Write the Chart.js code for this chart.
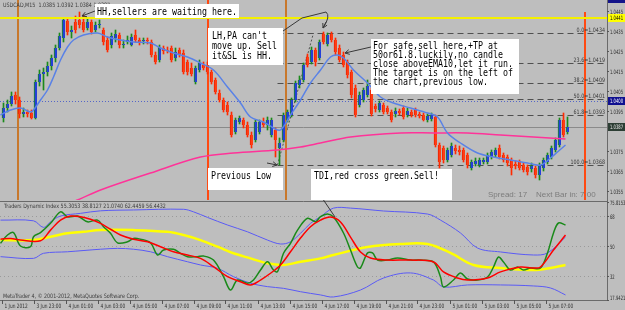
<!DOCTYPE html>
<html>
<head>
<meta charset="utf-8">
<script src="https://cdn.jsdelivr.net/npm/chart.js@4.4.1/dist/chart.umd.min.js"></script>
<style>
  html, body { margin: 0; padding: 0; background: #bebebe; }
  #wrap { position: relative; width: 625px; height: 310px; overflow: hidden; }
  #priceBox { position: absolute; left: 0; top: 0; width: 625px; height: 200px; }
  #tdiBox { position: absolute; left: 0; top: 200px; width: 625px; height: 110px; }
  canvas { background: #bebebe; }
</style>
</head>
<body>
<div id="wrap">
  <div id="priceBox"><canvas id="priceChart"></canvas></div>
  <div id="tdiBox"><canvas id="tdiChart"></canvas></div>
</div>
<script>
// --- candles (USDCAD M15) ---
const opens = [1.03915,1.03965,1.03985,1.04030,1.04005,1.03935,1.03945,1.03940,1.03915,1.04095,
  1.04135,1.04145,1.04175,1.04215,1.04265,1.04315,1.04400,1.04345,1.04395,1.04405,
  1.04395,1.04365,1.04395,1.04355,1.04380,1.04355,1.04305,1.04280,1.04315,1.04330,
  1.04280,1.04295,1.04280,1.04330,1.04305,1.04300,1.04305,1.04295,1.04230,1.04205,
  1.04265,1.04255,1.04265,1.04215,1.04255,1.04240,1.04195,1.04165,1.04095,1.04155,
  1.04180,1.04180,1.04145,1.04105,1.04040,1.04005,1.03980,1.03930,1.03845,1.03895,
  1.03905,1.03880,1.03830,1.03805,1.03845,1.03895,1.03880,1.03830,1.03855,1.03765,
  1.03805,1.03905,1.03930,1.04005,1.04080,1.04105,1.04220,1.04195,1.04255,1.04215,
  1.04335,1.04285,1.04335,1.04305,1.04265,1.04230,1.04195,1.04145,1.04065,1.03980,
  1.04005,1.04030,1.04055,1.03975,1.03955,1.03980,1.03965,1.03945,1.03935,1.03950,
  1.03965,1.03930,1.03945,1.03955,1.03935,1.03930,1.03905,1.03910,1.03920,1.03780,
  1.03765,1.03705,1.03730,1.03765,1.03755,1.03755,1.03730,1.03665,1.03685,1.03680,
  1.03695,1.03695,1.03720,1.03730,1.03765,1.03730,1.03720,1.03705,1.03685,1.03695,
  1.03680,1.03670,1.03660,1.03665,1.03630,1.03665,1.03695,1.03720,1.03755,1.03780,
  1.03905,1.03845];
const highs = [1.03990,1.04005,1.04045,1.04045,1.04020,1.03965,1.03955,1.03955,1.04105,1.04155,
  1.04165,1.04195,1.04230,1.04280,1.04340,1.04415,1.04415,1.04375,1.04425,1.04445,
  1.04430,1.04410,1.04405,1.04395,1.04405,1.04365,1.04320,1.04340,1.04355,1.04340,
  1.04305,1.04325,1.04335,1.04355,1.04315,1.04315,1.04315,1.04305,1.04245,1.04280,
  1.04275,1.04270,1.04275,1.04265,1.04265,1.04255,1.04205,1.04190,1.04175,1.04205,
  1.04195,1.04195,1.04155,1.04115,1.04055,1.04015,1.03995,1.03945,1.03915,1.03925,
  1.03915,1.03895,1.03845,1.03905,1.03905,1.03915,1.03920,1.03915,1.03865,1.03815,
  1.03940,1.03955,1.04015,1.04100,1.04125,1.04190,1.04235,1.04270,1.04265,1.04305,
  1.04345,1.04340,1.04345,1.04315,1.04280,1.04245,1.04205,1.04155,1.04080,1.04045,
  1.04065,1.04105,1.04065,1.03985,1.04000,1.03990,1.03975,1.03955,1.03965,1.03960,
  1.03975,1.03965,1.03955,1.03965,1.03945,1.03940,1.03935,1.03940,1.03930,1.03790,
  1.03775,1.03765,1.03790,1.03780,1.03775,1.03765,1.03740,1.03705,1.03715,1.03715,
  1.03715,1.03740,1.03755,1.03765,1.03780,1.03740,1.03730,1.03715,1.03700,1.03705,
  1.03690,1.03680,1.03690,1.03675,1.03690,1.03715,1.03740,1.03775,1.03815,1.03915,
  1.03940,1.03920];
const lows = [1.03895,1.03945,1.03975,1.03985,1.03915,1.03920,1.03920,1.03910,1.03910,1.04075,
  1.04055,1.04125,1.04155,1.04195,1.04255,1.04295,1.04330,1.04315,1.04340,1.04365,
  1.04345,1.04355,1.04335,1.04345,1.04365,1.04280,1.04245,1.04265,1.04295,1.04265,
  1.04265,1.04285,1.04275,1.04295,1.04280,1.04285,1.04285,1.04220,1.04185,1.04195,
  1.04235,1.04240,1.04195,1.04200,1.04220,1.04135,1.04130,1.04125,1.04085,1.04145,
  1.04155,1.04135,1.04085,1.04035,1.03995,1.03945,1.03930,1.03820,1.03835,1.03885,
  1.03865,1.03820,1.03765,1.03795,1.03835,1.03870,1.03855,1.03820,1.03720,1.03680,
  1.03795,1.03895,1.03920,1.03995,1.04065,1.04095,1.04170,1.04185,1.04175,1.04205,
  1.04285,1.04275,1.04295,1.04230,1.04195,1.04170,1.04115,1.04015,1.03920,1.03970,
  1.03995,1.04020,1.03925,1.03945,1.03945,1.03935,1.03935,1.03895,1.03920,1.03930,
  1.03910,1.03920,1.03920,1.03920,1.03915,1.03900,1.03895,1.03900,1.03770,1.03665,
  1.03690,1.03695,1.03720,1.03735,1.03730,1.03695,1.03665,1.03655,1.03675,1.03670,
  1.03685,1.03685,1.03710,1.03720,1.03710,1.03695,1.03675,1.03630,1.03660,1.03655,
  1.03645,1.03630,1.03645,1.03615,1.03605,1.03650,1.03685,1.03710,1.03745,1.03770,
  1.03820,1.03835];
const closes = [1.03965,1.03985,1.04025,1.04005,1.03935,1.03945,1.03935,1.03915,1.04095,1.04135,
  1.04145,1.04175,1.04215,1.04265,1.04325,1.04405,1.04345,1.04355,1.04355,1.04380,
  1.04355,1.04395,1.04345,1.04380,1.04385,1.04295,1.04255,1.04325,1.04335,1.04280,
  1.04285,1.04305,1.04320,1.04305,1.04295,1.04305,1.04300,1.04230,1.04195,1.04270,
  1.04250,1.04250,1.04205,1.04245,1.04230,1.04145,1.04145,1.04135,1.04165,1.04190,
  1.04165,1.04145,1.04095,1.04045,1.04005,1.03955,1.03945,1.03830,1.03905,1.03915,
  1.03880,1.03830,1.03780,1.03895,1.03895,1.03880,1.03905,1.03905,1.03805,1.03790,
  1.03930,1.03945,1.04005,1.04090,1.04105,1.04180,1.04180,1.04255,1.04195,1.04295,
  1.04295,1.04330,1.04305,1.04245,1.04205,1.04180,1.04130,1.04030,1.03930,1.04030,
  1.04055,1.04075,1.03935,1.03960,1.03990,1.03945,1.03945,1.03905,1.03950,1.03940,
  1.03920,1.03950,1.03930,1.03930,1.03925,1.03905,1.03925,1.03930,1.03780,1.03695,
  1.03705,1.03755,1.03775,1.03750,1.03745,1.03705,1.03680,1.03695,1.03700,1.03705,
  1.03705,1.03730,1.03745,1.03755,1.03720,1.03705,1.03690,1.03665,1.03675,1.03665,
  1.03655,1.03645,1.03675,1.03630,1.03680,1.03705,1.03730,1.03765,1.03805,1.03905,
  1.03830,1.03870];

// moving averages (bar index, price)
const emaIdx = [-0.75,1.75,4.25,6.75,7.5,9.25,11,12.5,14.25,16,17.5,20,23.5,26,29.25,32.5,36.75,39.25,42.5,46,
  49.25,52.5,56,59.25,61.75,65,67.5,69.25,71.75,74.25,76.75,79.25,81.75,83.5,85,87.5,91,94.25,97.5,101.75,
  106,108.5,111,114.25,118.5,122.5,126.75,131,134.25,136.75,138.5,140.5];
const emaVals = [1.03930,1.03955,1.03965,1.03945,1.03955,1.04005,1.04055,1.04120,1.04205,1.04270,
  1.04305,1.04330,1.04340,1.04320,1.04305,1.04295,1.04290,1.04265,1.04240,1.04220,
  1.04190,1.04155,1.04070,1.03990,1.03920,1.03895,1.03865,1.03855,1.03930,1.04005,
  1.04090,1.04155,1.04220,1.04230,1.04215,1.04155,1.04090,1.04020,1.03990,1.03965,
  1.03940,1.03920,1.03840,1.03790,1.03740,1.03720,1.03705,1.03690,1.03680,1.03715,
  1.03745,1.03780];
const slowIdx = [14.25,18.5,24.25,36.75,49.25,57.5,68.5,74.25,79.25,86.75,99.25,107.5,116,124.25,132.5,140.5];
const slowVals = [1.03475,1.03505,1.03555,1.03640,1.03720,1.03740,1.03755,1.03770,1.03790,1.03820,
  1.03840,1.03840,1.03840,1.03830,1.03820,1.03810];

// axis / objects
const priceTicks = [1.0445, 1.0435, 1.0425, 1.0415, 1.0405, 1.0395, 1.0375, 1.0365, 1.0355];
const fibNames = ['0.0', '23.6', '38.2', '50.0', '61.8', '100.0'];
const fibLevels = [1.0434, 1.0419, 1.0409, 1.0401, 1.0393, 1.0368];
const fibFromIdx = 68.5, fibTopIdx = 77.5;
const yellowLevel = 1.04415, roundLevel = 1.0400, bidLevel = 1.0387;
const vLineIdx = [3.4, 50.9, 70.4, 145];
const timeLabelIdx = [0, 8, 16, 24, 32, 40, 48, 56, 64, 72, 80, 88, 96, 104, 112, 120, 128, 136];
const timeLabels = ['1 Jun 2012', '3 Jun 23:00', '4 Jun 01:00', '4 Jun 03:00', '4 Jun 05:00', '4 Jun 07:00',
  '4 Jun 09:00', '4 Jun 11:00', '4 Jun 13:00', '4 Jun 15:00', '4 Jun 17:00', '4 Jun 19:00',
  '4 Jun 21:00', '4 Jun 23:00', '5 Jun 01:00', '5 Jun 03:00', '5 Jun 05:00', '5 Jun 07:00'];

// --- Traders Dynamic Index ---
const bandUpIdx = [-0.75,7.5,10,11.75,14.25,19.25,24.25,32.5,45,47.5,51,56,61,66,69.25,71.75,74.25,76.75,79.25,82.5,
  86.75,95,106,109.25,114.25,118.5,124.25,132.5,136,140.5];
const bandUp = [65.3,64.9,61.0,64.3,67.7,69.3,70.8,71.3,71.7,70.2,66.9,62.4,58.4,53.5,51.2,52.5,57.5,63.4,67.3,72.4,
  72.4,70.7,68.9,65.3,57.7,48.8,46.5,44.7,45.9,55.3];
const bandLoIdx = [-0.75,7.5,10,16,24.25,28.5,32.5,36.75,41,46,49.25,53.5,57.5,61.75,66,70,74.25,79.25,82.5,89.25,
  95,101.75,107.5,110,116,124.25,132.5,136.75,140.5];
const bandLo = [43.7,42.7,45.7,46.6,48.1,48.6,48.1,46.6,43.7,40.7,38.8,36.8,31.9,28.0,26.0,25.0,23.0,21.1,19.9,24.0,
  31.1,34.1,29.9,25.8,27.0,27.0,26.4,25.2,21.1];
const baseIdx = [-0.75,7.5,11.75,16,20,24.25,32.5,41,45,49.25,53.5,57.5,61.75,66,70,74.25,79.25,82.5,91,99.25,
  106,111.75,117.5,124.25,132.5,136.75,140.5];
const baseVals = [53.5,53.5,55.5,57.5,58.4,59.4,59.4,58.4,56.5,53.5,49.6,45.7,42.7,39.8,38.8,40.7,42.7,44.7,49.4,51.2,
  51.2,45.9,38.8,37.0,35.8,37.0,38.8];
const signalIdx = [-0.75,1.75,4.25,9.25,11.75,14.25,16.75,19.25,21.75,24.25,26.75,29.25,32.5,36,39.25,42.5,46,49.25,52.5,56,
  59.25,61.75,64.25,66.75,69.25,71.75,74.25,76.75,79.25,81.75,84.25,86.75,89.25,91.75,96,101.75,107.5,110,113.5,116,
  121,124.25,129.25,132.5,134.25,137.5,140.5];
const signalVals = [54.0,54.5,53.5,53.1,59.4,65.3,67.7,67.3,65.8,63.4,59.9,56.5,54.0,52.5,49.6,46.6,44.7,42.7,37.8,31.9,
  28.9,27.0,29.9,33.9,38.8,46.6,54.7,61.4,65.3,67.1,64.2,55.3,46.5,42.9,41.7,41.7,40.6,34.7,31.1,29.9,
  31.1,34.7,37.6,37.0,37.6,47.6,56.5];
const rsiIdx = [-0.75,1,2.5,4.25,6.75,7.5,9.25,11.75,14.25,16,18.5,21,23.5,25,26.75,28.5,31,32.5,34.25,36.75,
  38.5,40,42.5,44.25,46,48.5,50,52.5,55,56.75,58.5,61,62.5,64.25,66,67.5,68.5,70,71.75,73.5,
  76,78,79.25,81,82.5,85,86.75,88.5,89.25,91,92.25,93.5,96,98.5,101.75,104.25,107.5,109.25,110,112.5,
  114.25,116,118.5,121,122.5,123.75,125,126.75,128.5,130,131.75,134.25,136,137.5,138.75,140.5];
const rsiVals = [51.6,56.5,57.9,50.0,49.6,55.5,57.9,63.4,70.2,67.3,67.7,64.3,65.3,61.4,57.5,51.9,52.5,54.5,54.0,51.9,
  44.7,47.6,48.1,45.7,43.7,43.7,44.1,41.7,31.9,24.0,29.9,28.0,29.9,35.8,40.7,35.8,34.8,45.7,51.6,59.4,
  66.4,64.3,67.3,68.9,67.1,57.7,47.6,37.6,37.0,45.9,45.9,41.7,41.7,42.9,41.7,41.7,40.6,31.7,25.8,29.9,
  34.1,30.5,29.9,31.7,37.6,43.5,40.6,35.8,37.6,35.8,37.0,37.0,45.9,57.7,63.6,62.4];
const tdiTicks = [75.8153, 68, 50, 32, 17.9421];
const tdiTickText = ['75.8153', '68', '50', '32', '17.9421'];

// --- helpers ---
const pts = (xs, ys) => xs.map((x, k) => ({ x: x, y: ys[k] }));
const bull = opens.map((o, i) => closes[i] >= o);

// squeezed text: MT4 fonts here are narrow
function narrowText(ctx, str, x, y, sx) {
  ctx.save();
  ctx.translate(x, y);
  ctx.scale(sx, 1);
  ctx.fillText(str, 0, 0);
  ctx.restore();
}

function arrowLine(ctx, x1, y1, x2, y2, head) {
  ctx.beginPath(); ctx.moveTo(x1, y1); ctx.lineTo(x2, y2); ctx.stroke();
  if (!head) return;
  const a = Math.atan2(y2 - y1, x2 - x1);
  ctx.beginPath();
  ctx.moveTo(x2 - 5 * Math.cos(a - 0.5), y2 - 5 * Math.sin(a - 0.5));
  ctx.lineTo(x2, y2);
  ctx.lineTo(x2 - 5 * Math.cos(a + 0.5), y2 - 5 * Math.sin(a + 0.5));
  ctx.stroke();
}

// comment boxes typed on the chart
const notes = [
  { box: [95, 4, 144, 14], x: 97, y: 14.5, lh: 10, lines: ['HH,sellers are waiting here.'] },
  { box: [208, 28, 75, 37], x: 212, y: 38.5, lh: 10, lines: ["LH,PA can't", 'move up. Sell', 'it&SL is HH.'] },
  { box: [371, 39, 148, 55], x: 373, y: 48.5, lh: 9.2, lines: ['For safe,sell here,+TP at', '50or61.8.luckily,no candle',
    'close aboveEMA10,let it run.', 'The target is on the left of', 'the chart,previous low.'] },
  { box: [208, 168, 75, 22], x: 211, y: 179, lh: 10, lines: ['Previous Low'] },
  { box: [311, 169, 141, 31], x: 314, y: 178.5, lh: 10, lines: ['TDI,red cross green.Sell!'] }
];

// --- main price window decorations ---
const priceDecor = {
  id: 'priceDecor',
  beforeDatasetsDraw(chart) {
    const { ctx, chartArea: a, scales: { x, y } } = chart;
    ctx.save();
    // round level (dotted) and bid line
    ctx.strokeStyle = '#5566c8'; ctx.lineWidth = 1; ctx.setLineDash([1, 2]);
    let yy = Math.round(y.getPixelForValue(roundLevel)) + 0.5;
    ctx.beginPath(); ctx.moveTo(a.left, yy); ctx.lineTo(a.right, yy); ctx.stroke();
    ctx.setLineDash([]);
    ctx.strokeStyle = '#8a8a8a';
    yy = Math.round(y.getPixelForValue(bidLevel)) + 0.5;
    ctx.beginPath(); ctx.moveTo(a.left, yy); ctx.lineTo(a.right, yy); ctx.stroke();
    // fibo retracement
    ctx.strokeStyle = '#505050'; ctx.setLineDash([6, 4]);
    const fx = x.getPixelForValue(fibFromIdx);
    fibLevels.forEach(v => {
      const ly = Math.round(y.getPixelForValue(v)) + 0.5;
      ctx.beginPath(); ctx.moveTo(fx, ly); ctx.lineTo(a.right, ly); ctx.stroke();
    });
    ctx.setLineDash([2, 2]);
    ctx.beginPath();
    ctx.moveTo(fx, y.getPixelForValue(fibLevels[fibLevels.length - 1]));
    ctx.lineTo(x.getPixelForValue(fibTopIdx), y.getPixelForValue(fibLevels[0]));
    ctx.stroke();
    ctx.setLineDash([]);
    // vertical markers
    const vCols = ['#c8782c', '#ff4a12', '#c8782c', '#ff4a12'];
    vLineIdx.forEach((v, k) => {
      const px = Math.round(x.getPixelForValue(v));
      ctx.fillStyle = vCols[k];
      ctx.fillRect(px, k === 3 ? 12 : a.top, 2, a.bottom);
    });
    ctx.restore();
  },
  afterDraw(chart) {
    const { ctx, chartArea: a, scales: { x, y } } = chart;
    ctx.save();
    // yellow resistance line
    ctx.strokeStyle = '#f4f000'; ctx.lineWidth = 2;
    let yy = y.getPixelForValue(yellowLevel);
    ctx.beginPath(); ctx.moveTo(a.left, yy); ctx.lineTo(a.right, yy); ctx.stroke();

    // fib labels
    ctx.fillStyle = '#3a3a3a'; ctx.font = '6px "DejaVu Sans"'; ctx.textAlign = 'right';
    fibLevels.forEach((v, k) => {
      narrowText(ctx, fibNames[k] + '=' + v.toFixed(4), 605, y.getPixelForValue(v) - 1.5, 0.8);
    });
    ctx.textAlign = 'left';

    // header
    ctx.fillStyle = '#3c3c3c';
    narrowText(ctx, 'USDCAD,M15  1.0385 1.0392 1.0384 1.0387', 3, 7, 0.8);

    // price scale
    ctx.fillStyle = '#bebebe'; ctx.fillRect(a.right, 0, 18, a.bottom);
    ctx.strokeStyle = '#6a6a6a'; ctx.lineWidth = 1;
    ctx.beginPath(); ctx.moveTo(a.right + 0.5, 0); ctx.lineTo(a.right + 0.5, a.bottom); ctx.stroke();
    ctx.fillStyle = '#14148a'; ctx.fillRect(a.right + 1, 0, 18, 3);
    ctx.font = '6px "DejaVu Sans"';
    priceTicks.forEach(v => {
      const ty = Math.round(y.getPixelForValue(v)) + 0.5;
      ctx.strokeStyle = '#555';
      ctx.beginPath(); ctx.moveTo(a.right, ty); ctx.lineTo(a.right + 2, ty); ctx.stroke();
      ctx.fillStyle = '#2a2a2a';
      narrowText(ctx, v.toFixed(4), a.right + 3, ty + 2, 0.62);
    });
    const tags = [[yellowLevel, '#ffff00', '#000'], [roundLevel, '#101090', '#fff'], [bidLevel, '#2c3e34', '#e8e8e8']];
    tags.forEach(t => {
      const ty = y.getPixelForValue(t[0]);
      ctx.fillStyle = t[1]; ctx.fillRect(a.right + 1, ty - 4, 18, 8);
      ctx.fillStyle = t[2]; narrowText(ctx, t[0].toFixed(4), a.right + 3, ty + 2, 0.62);
    });

    // spread info
    ctx.fillStyle = '#7c7c7c'; ctx.font = '8px "Liberation Sans"';
    ctx.fillText('Spread: 17    Next Bar in: 7:00', 488, 197);

    // arrows / pointer lines
    ctx.strokeStyle = '#383838'; ctx.lineWidth = 1;
    arrowLine(ctx, 95, 11, 82, 16, true);
    ctx.beginPath(); ctx.moveTo(283, 31); ctx.lineTo(302, 18); ctx.lineTo(326, 12);
    ctx.quadraticCurveTo(331, 16, 323, 28); ctx.stroke();
    arrowLine(ctx, 326, 22, 323, 28, true);
    arrowLine(ctx, 371, 47, 345, 53, true);
    arrowLine(ctx, 267, 163, 277, 165, true);
    arrowLine(ctx, 312, 183, 335, 217, false);

    // comment boxes
    ctx.font = '10px "DejaVu Sans Mono"';
    notes.forEach(n => {
      ctx.fillStyle = '#ffffff';
      ctx.fillRect(n.box[0], n.box[1], n.box[2], n.box[3]);
      ctx.fillStyle = '#000000';
      n.lines.forEach((s, k) => narrowText(ctx, s, n.x, n.y + k * n.lh, 0.83));
    });
    ctx.restore();
  }
};

const tdiDecor = {
  id: 'tdiDecor',
  beforeDatasetsDraw(chart) {
    const { ctx, chartArea: a, scales: { y } } = chart;
    ctx.save();
    ctx.strokeStyle = '#9a9a9a'; ctx.setLineDash([1, 3]);
    [68, 50, 32].forEach(v => {
      const ly = Math.round(y.getPixelForValue(v)) + 0.5;
      ctx.beginPath(); ctx.moveTo(a.left, ly); ctx.lineTo(a.right, ly); ctx.stroke();
    });
    ctx.restore();
  },
  afterDraw(chart) {
    const { ctx, chartArea: a, scales: { x, y } } = chart;
    ctx.save();
    // window frames
    ctx.strokeStyle = '#6a6a6a'; ctx.lineWidth = 1;
    ctx.beginPath();
    ctx.moveTo(0, 1.5); ctx.lineTo(a.right, 1.5);
    ctx.moveTo(0, a.bottom + 0.5); ctx.lineTo(a.right, a.bottom + 0.5);
    ctx.moveTo(a.right + 0.5, 0); ctx.lineTo(a.right + 0.5, a.bottom);
    ctx.stroke();
    // pointer from the TDI comment
    ctx.strokeStyle = '#383838';
    arrowLine(ctx, 312, -17, 335, 17, false);

    // value scale
    ctx.font = '6px "DejaVu Sans"';
    tdiTicks.forEach((v, k) => {
      const ty = Math.round(y.getPixelForValue(v)) + 0.5;
      ctx.strokeStyle = '#555';
      ctx.beginPath(); ctx.moveTo(a.right, ty); ctx.lineTo(a.right + 2, ty); ctx.stroke();
      ctx.fillStyle = '#2a2a2a';
      narrowText(ctx, tdiTickText[k], a.right + 3, Math.min(ty + 2, a.bottom), 0.62);
    });

    // titles
    ctx.fillStyle = '#3c3c3c';
    narrowText(ctx, 'Traders Dynamic Index 55.3053 38.8127 21.0740 62.4459 56.4432', 4, 8, 0.8);
    narrowText(ctx, 'MetaTrader 4, \u00a9 2001-2012, MetaQuotes Software Corp.', 3, a.bottom - 2, 0.8);

    // time scale
    ctx.fillStyle = '#303030'; ctx.strokeStyle = '#555';
    timeLabelIdx.forEach((v, k) => {
      const px = Math.round(x.getPixelForValue(v)) + 0.5;
      ctx.beginPath(); ctx.moveTo(px - 2, a.bottom); ctx.lineTo(px - 2, a.bottom + 4); ctx.stroke();
      narrowText(ctx, timeLabels[k], px, a.bottom + 7.5, 0.72);
    });
    ctx.restore();
  }
};

const xRange = { type: 'linear', min: -0.875, max: 150.875, offset: false, display: false };

new Chart(document.getElementById('priceChart'), {
  type: 'bar',
  data: {
    datasets: [
      { type: 'line', label: 'EMA10', data: pts(emaIdx, emaVals), borderColor: '#5a82e6', borderWidth: 1.5,
        pointRadius: 0, tension: 0.35, order: 0 },
      { type: 'line', label: 'MA', data: pts(slowIdx, slowVals), borderColor: '#ff3399', borderWidth: 1.5,
        pointRadius: 0, tension: 0.35, order: 1 },
      { label: 'body', data: opens.map((o, i) => ({ x: i, y: [o, closes[i]] })),
        backgroundColor: bull.map(b => b ? '#2440d8' : '#ff3c14'),
        borderColor: bull.map(b => b ? '#1b8a1b' : '#e82000'),
        borderWidth: { left: 1, right: 0, top: 0, bottom: 0 }, borderSkipped: false,
        barThickness: 3, minBarLength: 1, grouped: false, order: 2 },
      { label: 'wick', data: lows.map((l, i) => ({ x: i, y: [l, highs[i]] })),
        backgroundColor: bull.map(b => b ? '#1b8a1b' : '#ff2a00'),
        barThickness: 1, grouped: false, order: 3 }
    ]
  },
  options: {
    responsive: true, maintainAspectRatio: false, animation: false, events: [],
    layout: { padding: { right: 18 } },
    plugins: { legend: { display: false }, tooltip: { enabled: false } },
    scales: {
      x: xRange,
      y: { min: 1.03505, max: 1.04505, display: false }
    }
  },
  plugins: [priceDecor]
});

new Chart(document.getElementById('tdiChart'), {
  type: 'line',
  data: {
    datasets: [
      { label: 'Up band', data: pts(bandUpIdx, bandUp), borderColor: '#5a5af5', borderWidth: 1, order: 4 },
      { label: 'Low band', data: pts(bandLoIdx, bandLo), borderColor: '#5a5af5', borderWidth: 1, order: 4 },
      { label: 'Market base', data: pts(baseIdx, baseVals), borderColor: '#ffff00', borderWidth: 2.5, order: 3 },
      { label: 'RSI price', data: pts(rsiIdx, rsiVals), borderColor: '#1a8a1a', borderWidth: 1.5, order: 2 },
      { label: 'Signal', data: pts(signalIdx, signalVals), borderColor: '#ff0000', borderWidth: 1.5, order: 1 }
    ]
  },
  options: {
    responsive: true, maintainAspectRatio: false, animation: false, events: [],
    layout: { padding: { top: 1, right: 18, bottom: 10 } },
    elements: { point: { radius: 0 }, line: { tension: 0.35 } },
    plugins: { legend: { display: false }, tooltip: { enabled: false } },
    scales: {
      x: xRange,
      y: { min: 18.1, max: 76.6, display: false }
    }
  },
  plugins: [tdiDecor]
});
</script>
</body>
</html>
